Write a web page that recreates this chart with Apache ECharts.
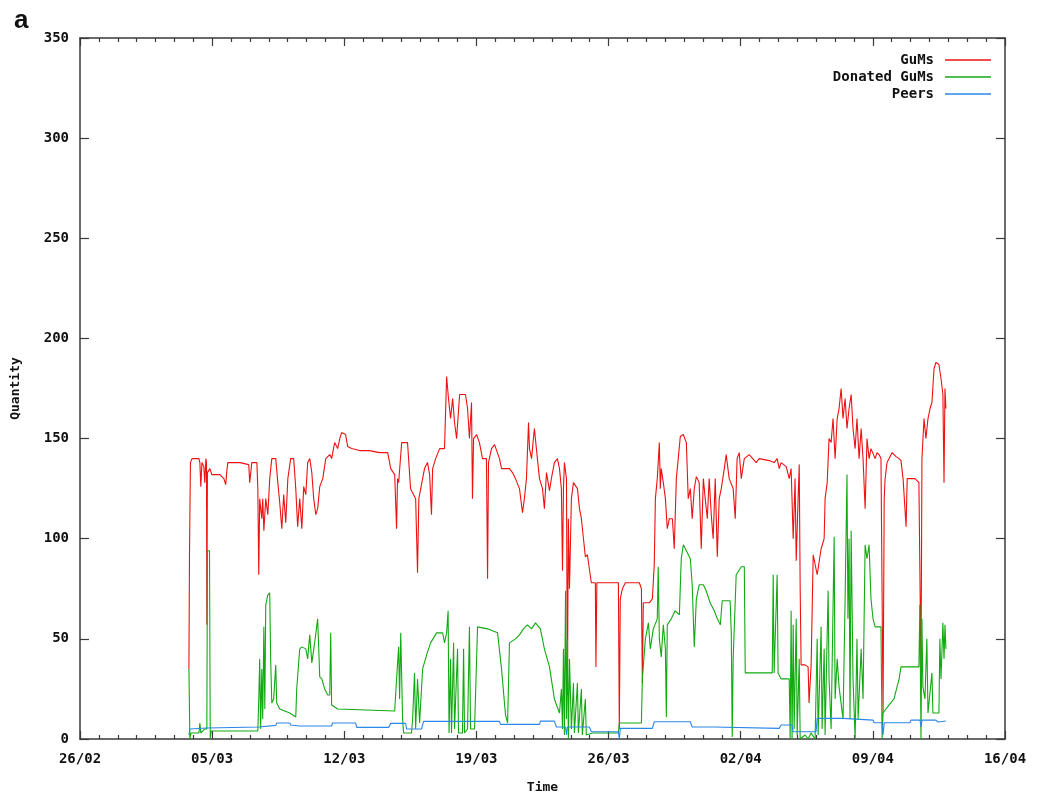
<!DOCTYPE html>
<html>
<head>
<meta charset="utf-8">
<script src="https://cdn.jsdelivr.net/npm/echarts@6/dist/echarts.min.js"></script>
<style>
  html, body { margin: 0; padding: 0; background: #fff; }
  #chart { width: 1038px; height: 799px; }
</style>
</head>
<body>
<div id="chart"></div>
<script>
// days since 26/02, value
var gums = [[5.77,35],[5.80,92],[5.85,138],[5.93,140],[6.30,140],[6.35,138],[6.40,126],[6.46,138],[6.56,136],[6.61,128],[6.67,140],[6.70,138],[6.72,57],[6.75,133],[6.88,135],[6.98,132],[7.41,132],[7.62,130],[7.72,127],[7.78,134],[7.83,138],[8.47,138],[8.94,137],[8.99,128],[9.10,138],[9.37,138],[9.42,125],[9.47,82],[9.52,120],[9.63,110],[9.68,120],[9.74,104],[9.84,120],[9.95,112],[10.05,130],[10.16,140],[10.37,140],[10.48,128],[10.58,118],[10.69,105],[10.79,122],[10.90,108],[11.01,130],[11.16,140],[11.32,140],[11.43,125],[11.53,106],[11.64,120],[11.75,105],[11.85,126],[11.96,122],[12.06,138],[12.17,140],[12.28,133],[12.38,120],[12.49,112],[12.59,115],[12.70,126],[12.86,130],[13.02,140],[13.12,140],[13.23,142],[13.33,140],[13.49,148],[13.65,145],[13.76,150],[13.86,153],[14.07,152],[14.18,146],[14.39,145],[14.81,144],[15.34,144],[15.87,143],[16.30,143],[16.46,135],[16.67,132],[16.77,105],[16.82,130],[16.88,128],[17.04,148],[17.35,148],[17.51,125],[17.78,120],[17.88,83],[17.95,120],[18.15,130],[18.25,135],[18.41,138],[18.52,132],[18.62,112],[18.68,135],[18.84,140],[19.05,145],[19.31,145],[19.42,181],[19.52,170],[19.63,160],[19.74,170],[19.84,158],[19.95,150],[20.11,172],[20.42,172],[20.53,165],[20.63,150],[20.74,168],[20.79,120],[20.85,150],[21.01,152],[21.16,148],[21.32,140],[21.53,140],[21.59,80],[21.64,138],[21.80,145],[21.96,147],[22.22,140],[22.33,135],[22.75,135],[22.91,133],[23.07,130],[23.28,125],[23.44,113],[23.54,120],[23.65,130],[23.76,158],[23.81,145],[23.92,140],[24.07,155],[24.23,140],[24.34,130],[24.50,125],[24.60,115],[24.71,133],[24.87,124],[24.97,130],[25.13,138],[25.29,140],[25.40,135],[25.50,125],[25.56,84],[25.61,125],[25.66,138],[25.77,130],[25.82,22],[25.87,110],[25.93,75],[26.03,120],[26.14,128],[26.35,125],[26.46,115],[26.56,110],[26.67,100],[26.77,91],[26.88,92],[26.98,85],[27.09,78],[27.30,78],[27.33,36],[27.38,78],[28.52,78],[28.57,5],[28.62,70],[28.73,75],[28.89,78],[29.63,78],[29.74,75],[29.79,28],[29.84,68],[30.16,68],[30.32,70],[30.42,87],[30.48,120],[30.58,130],[30.69,148],[30.74,125],[30.79,135],[30.90,128],[31.01,120],[31.11,105],[31.22,110],[31.38,110],[31.48,95],[31.59,130],[31.69,140],[31.80,151],[31.96,152],[32.12,148],[32.22,120],[32.33,125],[32.43,110],[32.54,125],[32.65,131],[32.80,128],[32.91,95],[33.02,130],[33.12,120],[33.23,110],[33.33,130],[33.44,112],[33.54,100],[33.65,130],[33.76,91],[33.86,120],[33.97,125],[34.13,135],[34.23,142],[34.39,130],[34.60,125],[34.71,110],[34.81,140],[34.92,143],[35.03,130],[35.19,140],[35.45,142],[35.82,138],[35.98,140],[36.51,139],[36.77,138],[36.93,140],[37.04,135],[37.14,138],[37.41,136],[37.57,130],[37.67,135],[37.78,100],[37.88,130],[37.94,89],[38.04,120],[38.10,137],[38.15,75],[38.20,37],[38.41,37],[38.57,36],[38.62,18],[38.73,37],[38.84,92],[39.05,82],[39.26,95],[39.42,100],[39.47,120],[39.58,128],[39.68,150],[39.79,148],[39.89,160],[40.00,140],[40.11,160],[40.21,165],[40.32,175],[40.42,160],[40.53,170],[40.63,155],[40.74,165],[40.85,172],[40.95,155],[41.06,145],[41.16,160],[41.27,140],[41.38,155],[41.48,140],[41.59,115],[41.69,150],[41.80,140],[41.90,145],[42.12,140],[42.22,143],[42.33,142],[42.43,140],[42.54,13],[42.60,120],[42.65,130],[42.75,138],[42.86,140],[43.02,143],[43.23,141],[43.39,140],[43.49,139],[43.60,130],[43.70,130],[43.76,106],[43.82,130],[44.23,130],[44.44,128],[44.55,33],[44.60,140],[44.71,160],[44.81,150],[44.92,160],[45.03,165],[45.13,168],[45.24,185],[45.34,188],[45.50,187],[45.61,180],[45.71,172],[45.77,128],[45.82,175],[45.87,165]];

var donated = [[5.77,35],[5.82,0],[5.88,3],[6.30,3],[6.35,8],[6.40,3],[6.61,5],[6.72,5],[6.75,94],[6.86,94],[6.90,0],[6.95,4],[9.42,4],[9.47,20],[9.52,40],[9.57,5],[9.63,35],[9.68,10],[9.74,56],[9.79,15],[9.84,67],[9.95,72],[10.05,73],[10.10,40],[10.16,18],[10.26,20],[10.37,37],[10.42,18],[10.58,15],[11.11,13],[11.43,11],[11.48,25],[11.64,45],[11.75,46],[11.96,45],[12.06,40],[12.17,52],[12.28,38],[12.43,48],[12.59,60],[12.70,31],[12.81,30],[12.96,25],[13.12,22],[13.23,22],[13.28,53],[13.33,17],[13.65,15],[16.67,14],[16.77,30],[16.88,46],[16.93,20],[16.99,53],[17.09,10],[17.14,3],[17.56,3],[17.62,10],[17.72,33],[17.78,5],[17.88,30],[17.99,8],[18.15,35],[18.36,42],[18.57,48],[18.89,53],[19.21,53],[19.31,48],[19.42,53],[19.50,64],[19.55,3],[19.63,40],[19.68,3],[19.79,48],[19.84,5],[20.00,45],[20.05,3],[20.26,3],[20.32,45],[20.37,3],[20.53,5],[20.63,56],[20.69,5],[20.90,5],[21.06,56],[21.59,55],[22.12,53],[22.33,35],[22.54,12],[22.65,8],[22.75,48],[23.07,50],[23.28,52],[23.49,55],[23.70,57],[23.92,55],[24.13,58],[24.39,55],[24.60,45],[24.87,36],[25.13,20],[25.40,13],[25.50,25],[25.56,5],[25.61,45],[25.66,2],[25.72,74],[25.77,10],[25.82,50],[25.87,0],[25.93,40],[26.03,5],[26.14,28],[26.19,3],[26.35,28],[26.40,3],[26.56,25],[26.61,2],[26.77,20],[26.82,2],[27.14,3],[28.52,3],[28.57,8],[29.74,8],[29.79,30],[29.95,50],[30.11,58],[30.21,45],[30.37,55],[30.58,60],[30.63,86],[30.69,50],[30.79,41],[30.90,57],[31.01,45],[31.06,11],[31.11,57],[31.32,60],[31.53,64],[31.75,62],[31.85,90],[31.96,97],[32.12,94],[32.33,90],[32.43,77],[32.54,46],[32.65,70],[32.80,77],[33.02,77],[33.17,74],[33.38,68],[33.60,64],[33.76,60],[33.92,57],[34.02,69],[34.44,69],[34.50,53],[34.55,1],[34.60,40],[34.76,82],[35.03,86],[35.19,86],[35.24,33],[36.67,33],[36.72,82],[36.77,33],[36.93,82],[36.98,33],[37.14,30],[37.57,30],[37.62,0],[37.67,64],[37.72,0],[37.78,57],[37.83,5],[37.94,60],[37.99,2],[38.10,40],[38.15,0],[38.41,2],[38.57,0],[38.73,3],[38.94,0],[39.05,50],[39.10,2],[39.26,56],[39.31,5],[39.42,45],[39.47,2],[39.63,74],[39.68,30],[39.79,5],[39.95,101],[40.00,20],[40.11,40],[40.21,26],[40.42,10],[40.53,70],[40.63,132],[40.68,60],[40.74,100],[40.79,10],[40.85,104],[40.95,30],[41.06,0],[41.16,50],[41.22,10],[41.38,45],[41.48,20],[41.59,97],[41.69,90],[41.80,97],[41.90,70],[42.01,60],[42.12,56],[42.43,56],[42.49,0],[42.54,13],[42.86,17],[43.12,20],[43.39,30],[43.49,36],[44.44,36],[44.49,67],[44.55,0],[44.60,60],[44.65,26],[44.76,20],[44.86,50],[44.92,13],[45.13,33],[45.18,13],[45.50,13],[45.55,50],[45.61,30],[45.71,58],[45.77,40],[45.82,57],[45.87,45]];

var peers = [[5.77,2],[5.82,5],[6.72,5.5],[6.77,6],[9.47,6],[9.52,6.8],[10.37,6.8],[10.42,8],[11.11,8],[11.16,7],[11.64,6.5],[13.33,6.5],[13.38,8],[14.60,8],[14.66,5.8],[16.35,5.8],[16.46,7.8],[17.25,7.8],[17.30,5],[18.09,5],[18.20,8.8],[22.22,8.8],[22.28,7.3],[24.34,7.3],[24.39,8.9],[25.13,8.9],[25.24,6],[25.72,6],[25.77,2],[25.82,6],[26.98,6],[27.09,3.6],[28.52,3.6],[28.57,0],[28.62,5.3],[30.32,5.3],[30.42,8.6],[32.33,8.6],[32.43,6],[33.60,6],[33.70,5.3],[37.04,5.3],[37.14,7],[37.72,7],[37.78,3.6],[38.99,3.6],[39.05,10.3],[40.42,10.3],[40.48,9.4],[42.01,9.4],[42.06,8.1],[42.49,8.1],[42.54,2],[42.60,8.1],[43.97,8.1],[44.02,9.4],[44.50,9.4],[44.55,6],[44.60,9.4],[45.34,9.4],[45.45,8.5],[45.87,9]];

var seriesNames = ['GuMs', 'Donated GuMs', 'Peers'];
var seriesColors = ['#ee1111', '#11aa11', '#2a86e8'];
var startDay = Date.UTC(2009, 1, 26); // 26/02

function dayLabel(d) {
    var t = new Date(startDay + d * 86400000);
    var dd = String(t.getUTCDate()).padStart(2, '0');
    var mm = String(t.getUTCMonth() + 1).padStart(2, '0');
    return dd + '/' + mm;
}

var font = 'DejaVu Sans Mono';
var axisColor = '#3a3a3a';

function xAx(pos, showLabel) {
    return {
        type: 'value',
        position: pos,
        min: 0,
        max: 49,
        interval: 7,
        name: showLabel ? 'Time' : '',
        nameLocation: 'middle',
        nameGap: 42,
        nameTextStyle: { fontFamily: font, fontWeight: 'bold', fontSize: 13, color: '#111' },
        axisLine: { show: true, onZero: false, lineStyle: { color: axisColor, width: 1.5 } },
        axisTick: { show: true, inside: true, length: 8, lineStyle: { color: axisColor, width: 1.2 } },
        minorTick: { show: true, splitNumber: 7, length: 4, lineStyle: { color: axisColor, width: 1.2 } },
        axisLabel: {
            show: showLabel, margin: 13,
            fontFamily: font, fontWeight: 'bold', fontSize: 14, color: '#111',
            formatter: dayLabel
        },
        splitLine: { show: false }
    };
}

function yAx(pos, showLabel) {
    return {
        type: 'value',
        position: pos,
        min: 0,
        max: 350,
        interval: 50,
        name: showLabel ? 'Quantity' : '',
        nameLocation: 'middle',
        nameGap: 58,
        nameRotate: 90,
        nameTextStyle: { fontFamily: font, fontWeight: 'bold', fontSize: 13, color: '#111' },
        axisLine: { show: true, onZero: false, lineStyle: { color: axisColor, width: 1.5 } },
        axisTick: { show: true, inside: true, length: 9, lineStyle: { color: axisColor, width: 1.2 } },
        axisLabel: {
            show: showLabel, margin: 11,
            fontFamily: font, fontWeight: 'bold', fontSize: 14, color: '#111'
        },
        splitLine: { show: false }
    };
}

var allData = [gums, donated, peers];
var series = [];
for (var i = 0; i < seriesNames.length; i++) {
    series.push({
        name: seriesNames[i],
        type: 'line',
        data: allData[i],
        symbol: 'none',
        color: seriesColors[i],
        lineStyle: { width: 1.1, color: seriesColors[i] },
        sampling: null,
        animation: false
    });
}

var legends = [];
for (var j = 0; j < seriesNames.length; j++) {
    legends.push({
        data: [seriesNames[j]],
        right: 42,
        top: 48 + j * 17,
        icon: 'rect',
        itemWidth: 46,
        itemHeight: 1.5,
        align: 'right',
        itemGap: 0,
        selectedMode: false,
        textStyle: { fontFamily: font, fontWeight: 'bold', fontSize: 14, color: '#111', padding: [0, 6, 0, 0] }
    });
}

var mychart = echarts.init(document.getElementById('chart'));
var option = {
    backgroundColor: '#fff',
    animation: false,
    title: {
        text: 'a', left: 9, top: 3,
        textStyle: { fontFamily: 'Liberation Sans', fontWeight: 'bold', fontSize: 26, color: '#111' }
    },
    legend: legends,
    grid: { left: 80, right: 33, top: 38, bottom: 56 },
    xAxis: [xAx('bottom', true), xAx('top', false)],
    yAxis: [yAx('left', true), yAx('right', false)],
    series: series
};
mychart.setOption(option, true);
</script>
</body>
</html>
